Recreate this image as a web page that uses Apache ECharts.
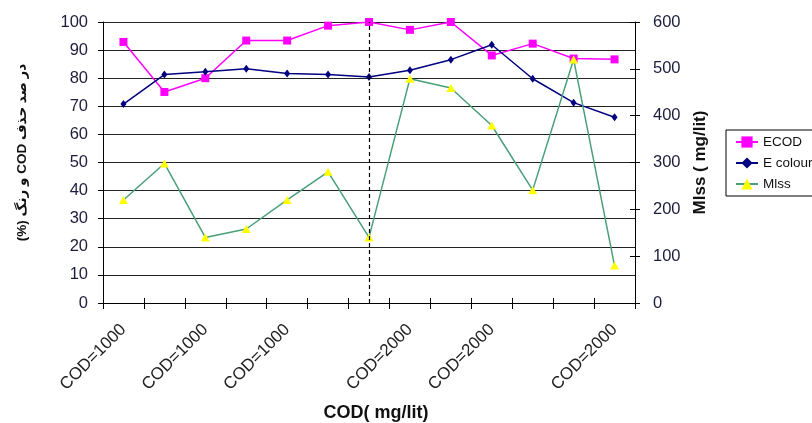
<!DOCTYPE html>
<html>
<head>
<meta charset="utf-8">
<script src="https://cdn.jsdelivr.net/npm/echarts@6/dist/echarts.min.js"></script>
<style>
html,body{margin:0;padding:0;background:#fff;}
#c{width:812px;height:423px;}
</style>
</head>
<body>
<div id="c"></div>
<script>
var categories = ['COD=1000','','COD=1000','','COD=1000','','','COD=2000','','COD=2000','','','COD=2000'];
var ecod   = [92.9, 75.1, 80.0, 93.4, 93.4, 98.7, 100, 97.2, 100, 88.1, 92.3, 87.0, 86.7];
var ecolour= [70.8, 81.3, 82.3, 83.4, 81.7, 81.3, 80.4, 82.8, 86.6, 91.9, 79.8, 71.3, 66.1];
var mlss   = [220, 298, 140, 158, 220, 280, 140, 479, 459, 379, 241, 520, 80];
var seriesNames = ['ECOD', 'E colour', 'Mlss'];
var leftName = '\u202Bدر صد حذف COD و رنگ (%)\u202C';
var rightName = 'Mlss ( mg/lit)';
var xName = 'COD( mg/lit)';
var dividerIndex = 6;

var FONT = "'Liberation Sans', Arial, sans-serif";
var chart = echarts.init(document.getElementById('c'), null, {renderer:'canvas'});
chart.setOption({
  animation: false,
  backgroundColor: '#fff',
  textStyle: {fontFamily: FONT},
  grid: {left: 103, right: 177, top: 22, bottom: 120, containLabel: false, outerBoundsMode: 'none'},
  legend: {
    orient: 'vertical', left: 726, top: 130,
    borderColor: '#000', borderWidth: 1, borderRadius: 0,
    padding: [5, 8, 5, 9], itemGap: 7, itemWidth: 22, itemHeight: 14,
    textStyle: {fontSize: 13.5, color: '#111', fontFamily: FONT},
    data: seriesNames
  },
  xAxis: [{
    type: 'category', data: categories, position: 'bottom',
    boundaryGap: true,
    name: xName, nameLocation: 'middle', nameGap: 101,
    nameTextStyle: {fontSize: 18, fontWeight: 'bold', color: '#111', fontFamily: FONT, padding: [0,0,0,14]},
    axisLine: {lineStyle: {color: '#000', width: 1}},
    axisTick: {show: true, length: 6, interval: 0, lineStyle: {color: '#000'}},
    axisLabel: {interval: 0, rotate: 45, margin: 24, fontSize: 17, color: '#222', fontFamily: FONT},
    splitLine: {show: false}
  }, {
    type: 'category', data: categories, position: 'bottom',
    boundaryGap: true,
    axisLine: {show: false},
    axisTick: {show: true, inside: true, length: 5, interval: 0, lineStyle: {color: '#000'}},
    axisLabel: {show: false},
    splitLine: {show: false}
  }],
  yAxis: [{
    type: 'value', min: 0, max: 100, interval: 10, position: 'left',
    name: leftName, nameLocation: 'middle', nameRotate: 90, nameGap: 74,
    nameTextStyle: {fontSize: 13.5, fontWeight: 'bold', color: '#111', fontFamily: "'Liberation Sans', 'DejaVu Sans', sans-serif", padding: [0,0,0,20]},
    axisLine: {show: true, lineStyle: {color: '#000', width: 1}},
    axisTick: {show: true, length: 5, lineStyle: {color: '#000'}},
    axisLabel: {fontSize: 16.5, color: '#1c1c3c', margin: 15, fontFamily: FONT},
    splitLine: {show: true, lineStyle: {color: '#222', width: 1}}
  }, {
    type: 'value', min: 0, max: 600, interval: 100, position: 'right',
    name: rightName, nameLocation: 'middle', nameRotate: 90, nameGap: 50,
    nameTextStyle: {fontSize: 17, fontWeight: 'bold', color: '#111', fontFamily: FONT},
    axisLine: {show: true, lineStyle: {color: '#000', width: 1}},
    axisTick: {show: true, length: 5, lineStyle: {color: '#000'}},
    axisLabel: {fontSize: 16.5, color: '#1c1c3c', margin: 18, fontFamily: FONT},
    splitLine: {show: false}
  }, {
    type: 'value', min: 0, max: 600, interval: 100, position: 'right',
    axisLine: {show: false},
    axisTick: {show: true, inside: true, length: 5, lineStyle: {color: '#000'}},
    axisLabel: {show: false},
    splitLine: {show: false}
  }],
  series: [{
    name: seriesNames[0], type: 'line', yAxisIndex: 0, data: ecod,
    symbol: 'rect', symbolSize: 8, showAllSymbol: true,
    lineStyle: {color: '#ff00ff', width: 1.5},
    itemStyle: {color: '#ff00ff', borderWidth: 0},
    markLine: {
      silent: true, symbol: ['none','none'], animation: false,
      label: {show: false},
      lineStyle: {color: '#000', type: [4, 3], width: 1.2},
      data: [{xAxis: dividerIndex}]
    }
  }, {
    name: seriesNames[1], type: 'line', yAxisIndex: 0, data: ecolour,
    symbol: 'diamond', symbolSize: [6, 8], showAllSymbol: true,
    lineStyle: {color: '#000080', width: 1.5},
    itemStyle: {color: '#000080', borderWidth: 0}
  }, {
    name: seriesNames[2], type: 'line', yAxisIndex: 1, data: mlss,
    symbol: 'triangle', symbolSize: [9, 8], showAllSymbol: true,
    lineStyle: {color: '#4a9f78', width: 1.5},
    itemStyle: {color: '#ffff00', borderWidth: 0}
  }]
});
</script>
</body>
</html>
